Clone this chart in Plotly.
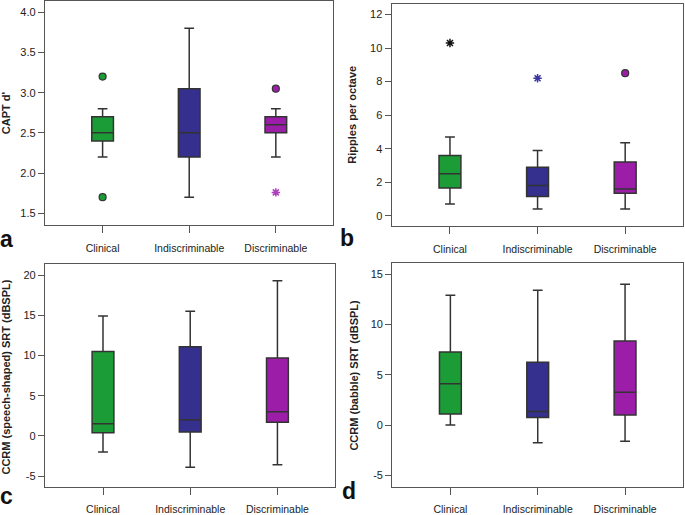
import plotly.graph_objects as go

W, H = 685, 515

groups = ["Clinical", "Indiscriminable", "Discriminable"]
colors = ["#1b9c36", "#352f8e", "#9c1ea8"]

# Panel a: CAPT d'
a_low = [2.2, 1.7, 2.2]
a_q1 = [2.4, 2.2, 2.5]
a_med = [2.5, 2.5, 2.6]
a_q3 = [2.7, 3.05, 2.7]
a_high = [2.8, 3.8, 2.8]
a_circ_x = ["Clinical", "Clinical", "Discriminable"]
a_circ_y = [3.2, 1.7, 3.05]
a_star_x = ["Discriminable"]
a_star_y = [1.76]

# Panel b: Ripples per octave
b_low = [0.7, 0.4, 0.4]
b_q1 = [1.65, 1.15, 1.35]
b_med = [2.5, 1.8, 1.6]
b_q3 = [3.6, 2.9, 3.2]
b_high = [4.7, 3.9, 4.35]
b_circ_x = ["Discriminable"]
b_circ_y = [8.5]
b_star_x = ["Clinical", "Indiscriminable"]
b_star_y = [10.3, 8.2]

# Panel c: CCRM (speech-shaped)
c_low = [-2.0, -3.9, -3.6]
c_q1 = [0.4, 0.5, 1.7]
c_med = [1.5, 2.0, 3.0]
c_q3 = [10.5, 11.1, 9.7]
c_high = [14.9, 15.5, 19.3]

# Panel d: CCRM (babble)
d_low = [0.0, -1.75, -1.6]
d_q1 = [1.1, 0.75, 1.0]
d_med = [4.1, 1.35, 3.25]
d_q3 = [7.25, 6.25, 8.35]
d_high = [12.9, 13.4, 14.0]

a_ticks = [1.5, 2.0, 2.5, 3.0, 3.5, 4.0]
a_ticktext = ["1.5", "2.0", "2.5", "3.0", "3.5", "4.0"]
b_ticks = [0, 2, 4, 6, 8, 10, 12]
b_ticktext = ["0", "2", "4", "6", "8", "10", "12"]
c_ticks = [-5, 0, 5, 10, 15, 20]
c_ticktext = ["-5", "0", "5", "10", "15", "20"]
d_ticks = [-5, 0, 5, 10, 15]
d_ticktext = ["-5", "0", "5", "10", "15"]

FONT = "Liberation Sans, Arial, Helvetica, sans-serif"
EDGE = "#333333"

fig = go.Figure()


def px_dom_x(l, r):
    return [l / W, r / W]


def px_dom_y(t, b):
    return [1 - b / H, 1 - t / H]


panels = [
    dict(ax="", low=a_low, q1=a_q1, med=a_med, q3=a_q3, high=a_high,
         circ=(a_circ_x, a_circ_y), star=(a_star_x, a_star_y)),
    dict(ax="2", low=b_low, q1=b_q1, med=b_med, q3=b_q3, high=b_high,
         circ=(b_circ_x, b_circ_y), star=(b_star_x, b_star_y)),
    dict(ax="3", low=c_low, q1=c_q1, med=c_med, q3=c_q3, high=c_high,
         circ=None, star=None),
    dict(ax="4", low=d_low, q1=d_q1, med=d_med, q3=d_q3, high=d_high,
         circ=None, star=None),
]

cmap = dict(zip(groups, colors))
star_colors = {"": ["#b03cc0"], "2": ["#111111", "#3a35a0"]}

for p in panels:
    for i, g in enumerate(groups):
        fig.add_trace(go.Box(
            x=[g], q1=[p["q1"][i]], median=[p["med"][i]], q3=[p["q3"][i]],
            lowerfence=[p["low"][i]], upperfence=[p["high"][i]],
            fillcolor=colors[i], line=dict(color=EDGE, width=1.5),
            width=0.25, whiskerwidth=0.45, boxpoints=False,
            xaxis="x" + p["ax"], yaxis="y" + p["ax"], showlegend=False,
            hoverinfo="skip"))
    if p["circ"]:
        cx, cy = p["circ"]
        fig.add_trace(go.Scatter(
            x=cx, y=cy, mode="markers",
            marker=dict(symbol="circle", size=7, color=[cmap[g] for g in cx],
                        line=dict(color=EDGE, width=1.2)),
            xaxis="x" + p["ax"], yaxis="y" + p["ax"], showlegend=False))
    if p["star"]:
        sx, sy = p["star"]
        sc = star_colors[p["ax"]]
        fig.add_trace(go.Scatter(
            x=sx, y=sy, mode="markers",
            marker=dict(symbol="asterisk-open", size=7, color=sc,
                        line=dict(color=sc, width=1.5)),
            xaxis="x" + p["ax"], yaxis="y" + p["ax"], showlegend=False))

doms = [
    (px_dom_x(45, 333), px_dom_y(1, 228), [1.35, 4.14], a_ticks, a_ticktext),
    (px_dom_x(391.7, 683), px_dom_y(4, 228.7), [-0.61, 12.63], b_ticks, b_ticktext),
    (px_dom_x(45, 335), px_dom_y(267, 492.3), [-6.3, 21.39], c_ticks, c_ticktext),
    (px_dom_x(392.3, 682.7), px_dom_y(266, 492.3), [-6.11, 16.11], d_ticks, d_ticktext),
]

layout = dict(
    width=W, height=H, margin=dict(l=0, r=0, t=0, b=0),
    paper_bgcolor="white", plot_bgcolor="white",
    font=dict(family=FONT, size=11, color="#222222"),
    showlegend=False,
)

axnames = ["", "2", "3", "4"]
for k, (xd, yd, yr, tv, tt) in enumerate(doms):
    n = axnames[k]
    layout["xaxis" + n] = dict(
        domain=xd, anchor="y" + n, type="category",
        categoryorder="array", categoryarray=groups,
        range=[-0.665, 2.66], showline=True, mirror=True,
        linecolor="#555555", linewidth=1.3, ticks="outside", ticklen=7,
        tickcolor="#555555", tickwidth=1.3, showgrid=False, zeroline=False,
        tickfont=dict(size=10.5, color="#222222"), ticklabelstandoff=6,
        fixedrange=True)
    layout["yaxis" + n] = dict(
        domain=yd, anchor="x" + n, range=yr, tickvals=tv, ticktext=tt,
        showline=True, mirror=True, linecolor="#555555", linewidth=1.3,
        ticks="outside", ticklen=6, tickcolor="#555555", tickwidth=1.3,
        showgrid=False, zeroline=False,
        tickfont=dict(size=11, color="#222222"), fixedrange=True)

fig.update_layout(**layout)

titles = [
    ("CAPT d'", 6, 114.5),
    ("Ripples per octave", 352, 116),
    ("CCRM (speech-shaped) SRT (dBSPL)", 6, 382),
    ("CCRM (babble) SRT (dBSPL)", 354, 380),
]
for t, xp, yp in titles:
    fig.add_annotation(text="<b>" + t + "</b>", x=xp / W, y=1 - yp / H,
                       xref="paper", yref="paper", textangle=-90,
                       showarrow=False, xanchor="center", yanchor="middle",
                       font=dict(size=11, color="#222222", family=FONT))

letters = [("a", 6, 242), ("b", 347, 241), ("c", 6, 502), ("d", 349, 497)]
for t, xp, yp in letters:
    fig.add_annotation(text="<b>" + t + "</b>", x=xp / W, y=1 - yp / H,
                       xref="paper", yref="paper", showarrow=False,
                       xanchor="center", yanchor="middle",
                       font=dict(size=23, color="#111111", family=FONT))

fig.write_html("out.html", config={"displayModeBar": False},
               post_script="document.body.style.margin='0';document.body.style.overflow='hidden';")
